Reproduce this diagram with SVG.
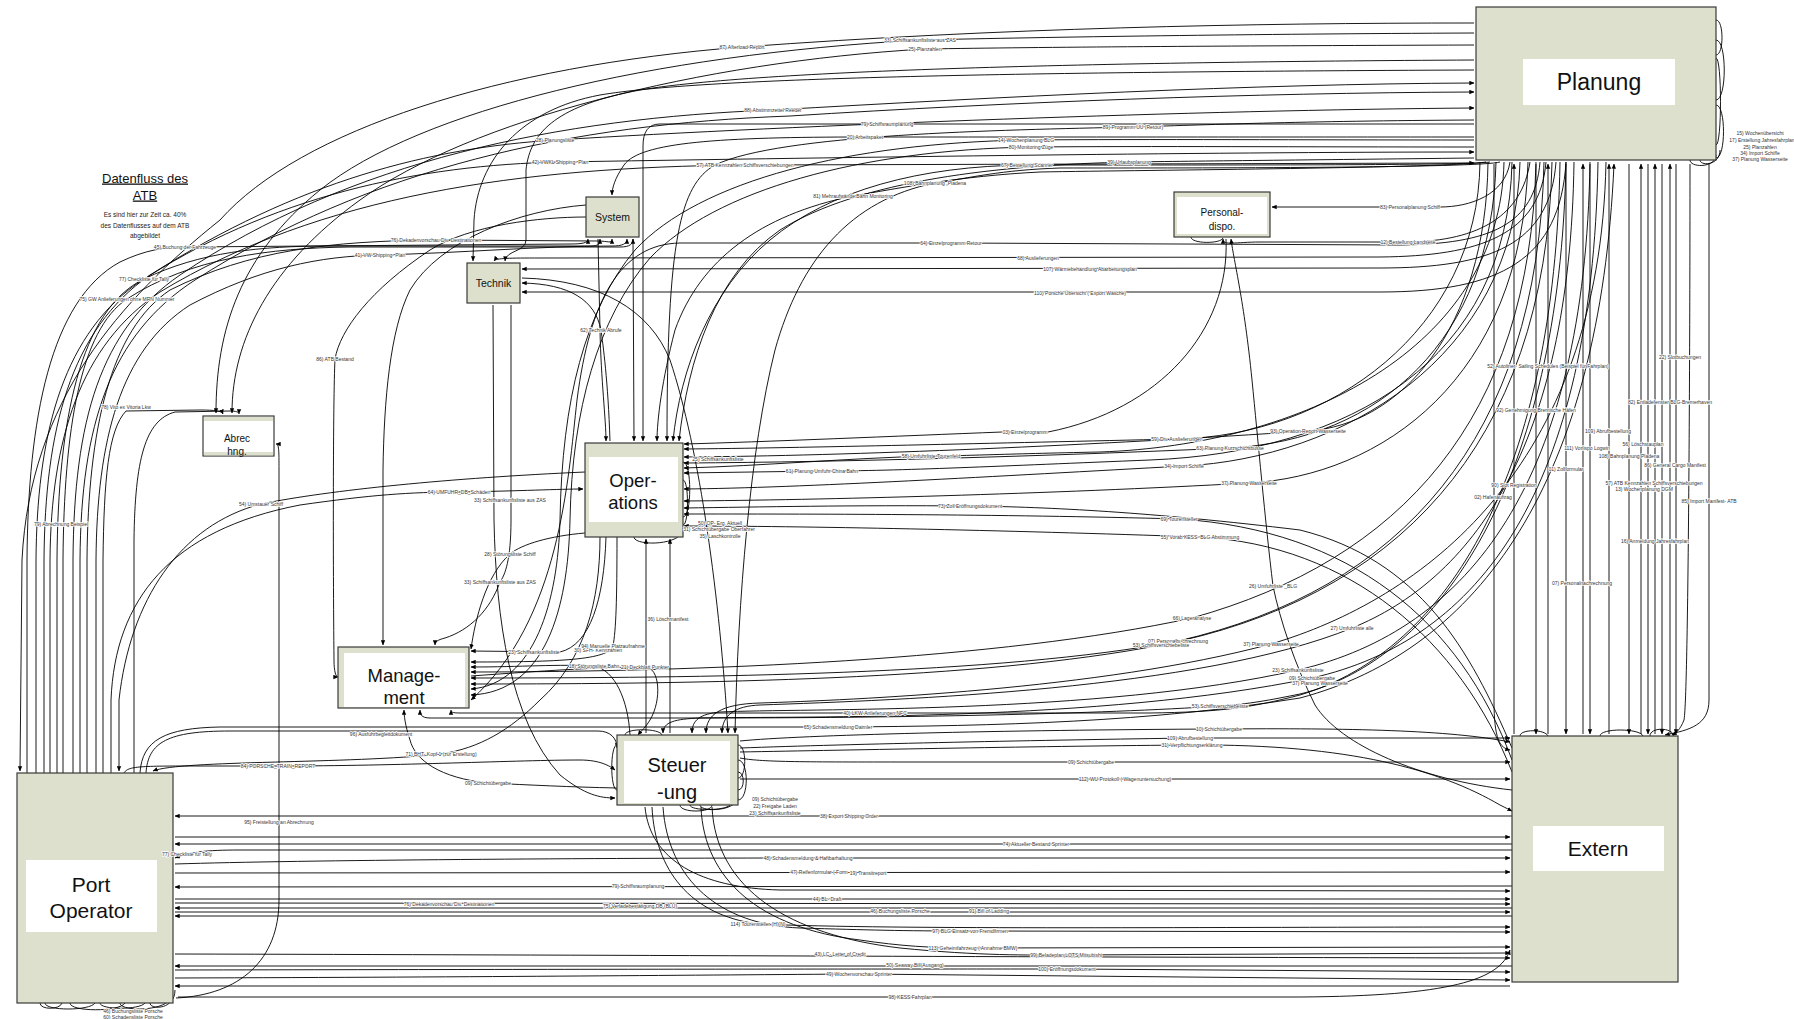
<svg xmlns="http://www.w3.org/2000/svg" width="1794" height="1019" viewBox="0 0 1794 1019">
<style>
.c path{fill:none;stroke:#000;stroke-width:0.9;marker-end:url(#a)}
.lp path{fill:none;stroke:#000;stroke-width:0.9}
.n{fill:#dde0cc;stroke:#3a3a3a;stroke-width:1.2}
.w{fill:#fff}
.t{font-family:"Liberation Sans",Arial,sans-serif;text-anchor:middle;fill:#111}
.l{font-family:"Liberation Sans",Arial,sans-serif;font-size:5px;text-anchor:middle;dominant-baseline:central;fill:#333;stroke:#fff;stroke-width:1.5;paint-order:stroke;stroke-linejoin:round}
.s{font-family:"Liberation Sans",Arial,sans-serif;font-size:6.5px;text-anchor:middle;fill:#222}
</style>
<defs>
<marker id="a" viewBox="0 0 8 8" refX="7.5" refY="4" markerWidth="5" markerHeight="5" orient="auto" markerUnits="userSpaceOnUse"><path d="M0,0.5 L8,4 L0,7.5 Z" fill="#000"/></marker>
</defs>
<rect width="1794" height="1019" fill="#fff"/>

<g id="title">
<text class="t" x="145" y="182.5" font-size="13" text-decoration="underline">Datenfluss des</text>
<text class="t" x="145" y="199.5" font-size="13" text-decoration="underline">ATB</text>
<text class="s" x="145" y="217">Es sind hier zur Zeit ca. 40%</text>
<text class="s" x="145" y="228">des Datenflusses auf dem ATB</text>
<text class="s" x="145" y="238">abgebildet</text>
</g>

<g id="connectors" class="c">
<!-- Planung left -->
<path d="M1474,23 C1250,23 1000,28 742,47 C500,66 300,130 220,220 C120,300 30,400 22,560 L20,771"/>
<path d="M1474,33 C1250,34 1050,37 920,40 C650,55 420,110 320,190 C240,255 216,330 216,413"/>
<path d="M1474,45 C1200,46 1050,47 925,49 C700,62 470,120 360,200 C270,265 232,340 232,413"/>
<path d="M73,773 L73,560 C74,420 100,330 180,275 C350,160 560,118 773,110 C1000,97 1250,84 1474,83"/>
<path d="M80,773 L80,560 C81,425 110,335 195,280 C370,168 570,124 790,116 C1010,102 1250,93 1474,92"/>
<path d="M1474,124 L660,124 C648,124 643,132 643,146 L643,441"/>
<path d="M1474,120 C1300,121 1200,125 1133,127 C1000,130 780,134 715,165 C680,185 667,240 667,441"/>
<path d="M1474,137 C1250,137 1000,137 865,137 C720,137 640,142 624,165 C615,178 612,188 612,195"/>
<path d="M1474,140 C1300,140 1150,139 1026,140 C850,143 700,180 635,250 C585,310 562,400 560,520 C558,600 535,684 471,689"/>
<path d="M1474,147 C1300,147 1150,146 1031,147 C860,150 715,190 650,258 C598,318 572,410 570,520 C568,610 545,692 471,695"/>
<path d="M50,773 L50,560 C51,440 80,345 160,292 C320,195 520,167 745,165 L1474,163"/>
<path d="M36,773 L36,560 C37,440 60,340 135,285 C270,195 420,165 560,162 C800,158 1200,152 1474,152"/>
<path d="M44,773 L44,560 C45,430 70,330 150,275 C300,180 430,148 555,140 C800,125 1200,110 1474,108"/>
<path d="M1474,60 C1100,62 760,70 640,90 C560,105 530,130 526,170 L526,240 C526,252 506,250 505,261"/>
<path d="M1474,70 C1000,72 700,78 600,95 C520,110 478,160 474,220 L473,261"/>
<path d="M1490,162 C1470,165 1300,165 1100,165 L1027,165 C920,166 830,190 770,240 C710,290 680,370 673,441"/>
<path d="M1474,158 C1300,160 1200,161 1129,162 C1000,165 860,180 780,230 C715,275 688,360 679,441"/>
<path d="M1500,162 C1480,168 1200,168 1060,168 C1000,170 970,178 935,183 C850,200 800,260 775,350 C750,450 738,600 735,733"/>
<path d="M1486,162 C1450,168 1150,170 1040,172 C960,176 900,188 853,196 C760,215 700,260 675,330 C662,380 657,420 657,441"/>
<!-- System bundle -->
<path d="M27,773 L27,560 C28,420 50,300 120,262 C145,250 165,247 185,247 L570,244 C582,244 588,243 588,239"/>
<path d="M87,773 L87,560 C88,430 110,330 170,290 C250,250 330,241 436,240 L598,241 C608,241 612,244 612,239"/>
<path d="M96,773 L96,560 C97,440 120,350 190,305 C260,268 320,256 380,255 C460,253 540,246 612,246 C622,246 627,244 627,239"/>
<path d="M57,773 L57,560 C58,420 80,310 144,279 C200,252 260,246 330,246 L590,246 C600,246 600,243 600,239"/>
<path d="M63,773 L63,560 C64,430 80,330 127,299 C190,258 270,248 350,247 L620,247 C630,247 633,244 633,239"/>
<!-- Abrechnung -->
<path d="M103,773 L103,560 C104,480 108,430 126,411 L200,410 C215,410 222,411 223,414"/>
<path d="M134,773 L134,540 C135,460 145,420 175,412 L230,411 C236,411 239,412 239,414"/>
<path d="M585,472 C450,478 330,490 261,504 C180,525 130,600 119,700 L119,771"/>
<path d="M111,773 L111,700 C115,600 170,530 300,505 C370,495 410,492 459,492 C520,491 560,489 583,489"/>
<path d="M176,998 C240,995 279,960 279,900 L279,470 C279,450 279,444 276,444"/>
<path d="M586,217 C540,217 470,225 430,250 C370,290 340,330 335,359 C333,400 333,560 334,660 C334,672 336,677 338,677"/>
<path d="M586,205 C520,210 440,240 410,290 C390,330 384,400 383,470 L383,645"/>
<!-- Personal-dispo -->
<path d="M1510,162 C1505,195 1470,207 1440,207 L1272,207"/>
<path d="M1530,162 C1522,215 1480,241 1408,242 L1260,242 C1235,242 1223,246 1223,239"/>
<path d="M1540,162 C1535,225 1490,244 1400,245 L951,243 L680,243 C620,244 590,300 577,400 C568,480 560,620 471,700"/>
<path d="M1226,239 C1230,330 1160,410 1048,432 L1002,432 C900,436 760,442 684,444"/>
<path d="M1512,790 C1420,780 1340,745 1315,705 C1295,665 1280,620 1273,586 C1265,520 1258,440 1252,380 C1244,300 1234,262 1231,239"/>
<!-- Technik -->
<path d="M1546,162 C1540,235 1480,256 1380,257 L540,258 C510,258 496,258 494,261"/>
<path d="M1556,162 C1550,245 1490,268 1380,268 L522,269"/>
<path d="M610,441 C608,380 603,345 601,330 C595,300 570,284 522,283"/>
<path d="M1566,162 C1560,260 1500,292 1380,292 L522,292"/>
<!-- Planung bottom to Operations -->
<path d="M1480,162 C1478,330 1330,436 1177,439 C1000,443 800,448 684,449"/>
<path d="M1488,162 C1486,330 1400,425 1308,431 C1100,445 850,456 684,457"/>
<path d="M1496,162 C1492,340 1380,440 1230,448 C1050,456 850,462 684,463"/>
<path d="M1504,162 C1500,350 1300,445 1100,452 C1000,454 960,456 931,456 C850,458 760,466 684,468"/>
<path d="M1512,162 C1508,360 1350,452 1150,460 C1000,466 900,471 822,471 L684,473"/>
<path d="M1520,162 C1515,360 1340,458 1184,466 C1000,476 800,488 684,489"/>
<path d="M1528,162 C1522,380 1380,476 1249,483 C1050,494 820,500 684,501"/>
<path d="M1512,748 C1470,650 1420,560 1300,530 C1150,512 1050,507 970,506 C850,505 760,507 684,508"/>
<path d="M1512,760 C1460,620 1350,530 1179,519 C1000,514 800,514 684,514"/>
<path d="M1512,772 C1460,640 1350,545 1200,537 C1000,530 800,526 684,526"/>
<!-- Planung bottom to Management / Steuerung -->
<path d="M1536,162 C1530,420 1400,560 1192,618 C1000,660 700,672 471,672"/>
<path d="M1544,162 C1538,440 1400,590 1178,641 C1000,675 700,678 471,678"/>
<path d="M1552,162 C1546,450 1390,600 1161,645 C980,680 700,684 471,684"/>
<path d="M1560,162 C1555,470 1450,650 1300,695 C1250,708 1220,712 1150,713 L875,713 L460,713 C452,713 451,712 451,710"/>
<path d="M1566,162 C1560,480 1440,660 1300,694 C1270,700 1250,704 1220,706 C1100,714 900,718 700,718 L430,718 C421,718 420,714 420,710"/>
<path d="M1574,162 C1570,450 1470,580 1352,628 C1200,690 900,700 760,705 C735,706 722,715 722,733"/>
<path d="M1590,162 C1585,480 1470,630 1298,670 C1100,715 800,708 720,712 C700,714 692,720 692,733"/>
<path d="M1598,162 C1592,490 1480,640 1312,678 C1100,722 800,716 700,718 C675,719 663,722 663,733"/>
<path d="M1606,162 C1600,470 1420,600 1271,644 C1100,690 850,700 760,703 C720,704 706,715 706,733"/>
<path d="M140,773 C142,740 165,728 220,727 L838,727 C1000,726 1150,722 1300,698 C1480,650 1600,480 1614,164"/>
<!-- Planung bottom to Extern top -->
<path d="M1494,164 L1494,700 C1494,740 1500,748 1510,750"/>
<path d="M1514,734 L1514,164"/>
<path d="M1536,164 L1536,734"/>
<path d="M1548,734 L1548,164"/>
<path d="M1566,164 L1566,734"/>
<path d="M1583,734 L1583,164"/>
<path d="M1590,164 L1590,734"/>
<path d="M1609,734 L1609,164"/>
<path d="M1629,164 L1629,734"/>
<path d="M1641,734 L1641,164"/>
<path d="M1648,164 L1648,734"/>
<path d="M1655,734 L1655,164"/>
<path d="M1662,164 L1662,734"/>
<path d="M1670,734 L1670,164"/>
<path d="M1676,164 L1676,734"/>
<path d="M1690,164 C1690,400 1688,700 1684,720 C1680,730 1676,733 1672,735"/>
<path d="M1709,164 L1709,700 C1709,725 1690,730 1665,735"/>
<!-- Steuerung / Extern / Port Operator -->
<path d="M740,741 C800,735 1000,730 1219,729 C1350,728 1450,730 1510,742"/>
<path d="M740,748 C850,744 1050,740 1190,738 L1510,738"/>
<path d="M740,752 C850,750 1050,746 1192,745 C1350,744 1440,770 1500,805 C1506,808 1510,810 1512,811"/>
<path d="M740,758 C760,762 800,762 900,762 L1510,762"/>
<path d="M740,779 L1510,779"/>
<path d="M1512,816 L175,816"/>
<path d="M175,837 L1510,837"/>
<path d="M1512,844 L175,844"/>
<path d="M1512,850 L240,850 C205,850 190,852 175,858"/>
<path d="M175,864 C300,860 600,858 808,858 L1510,858"/>
<path d="M175,873 L1510,872"/>
<path d="M1512,886 L175,887"/>
<path d="M645,807 C650,860 700,888 780,890 L1510,891"/>
<path d="M175,899 L1510,899"/>
<path d="M175,903 L1510,904"/>
<path d="M1512,908 L175,908"/>
<path d="M175,912 L1510,912"/>
<path d="M1512,916 L175,916"/>
<path d="M652,807 C655,870 690,915 758,924 C900,930 1200,927 1510,927"/>
<path d="M663,807 C668,880 720,925 800,928 C870,930 900,931 970,931 L1510,932"/>
<path d="M701,807 C704,880 760,928 860,940 C900,946 930,948 973,948 L1510,947"/>
<path d="M712,807 C716,890 790,935 900,948 C980,956 1030,955 1066,955 L1510,953"/>
<path d="M175,954 C600,955 1000,957 1510,958"/>
<path d="M1512,966 L175,966"/>
<path d="M175,970 C700,969 900,969 1067,969 L1510,972"/>
<path d="M175,978 C500,977 700,975 859,974 L1510,980"/>
<path d="M1510,986 L175,986"/>
<path d="M178,997 L1300,997 C1450,996 1500,980 1510,950"/>
<path d="M124,773 C128,766 140,766 200,766 L278,766 C400,766 520,760 580,760 C600,760 610,766 615,770"/>
<path d="M600,537 C600,600 585,660 540,700 C510,730 480,748 441,754 C350,764 180,760 153,771"/>
<path d="M617,788 C570,787 530,785 488,783 C440,778 415,760 410,740 C405,725 404,715 404,710"/>
<path d="M146,773 C148,742 168,731 230,731 L598,731 C610,731 617,738 617,748"/>
<!-- Technik / Operations / Management / Steuerung -->
<path d="M493,305 L494,520 C496,620 510,720 560,775 C585,795 600,798 615,798"/>
<path d="M511,305 L511,520 C511,560 505,575 500,582 C490,610 470,630 445,638 C437,640 435,642 435,645"/>
<path d="M585,533 C550,536 522,544 510,554 C486,575 475,620 471,649"/>
<path d="M606,537 C604,600 590,645 560,652 L471,651"/>
<path d="M617,537 C617,600 616,630 613,646 C608,660 560,662 471,662"/>
<path d="M630,735 C628,700 615,670 594,666 C560,664 520,667 471,667"/>
<path d="M471,676 C540,671 600,667 645,667 C660,667 662,700 650,720 C646,727 641,731 638,735"/>
<path d="M646,733 L646,539"/>
<path d="M670,733 L670,539"/>
<path d="M522,278 C600,280 650,310 670,360 C700,450 720,600 728,733"/>
<path d="M598,239 L600,330 C601,380 606,420 606,441"/>
<path d="M633,239 L634,441"/>
</g>

<g id="loops" class="lp">
<path d="M1716,20 C1724,20 1724,55 1716,55"/>
<path d="M1716,40 C1727,40 1727,100 1716,100"/>
<path d="M1716,58 C1722,58 1722,145 1716,145"/>
<path d="M1716,105 C1726,105 1726,158 1716,158"/>
<path d="M1690,160 C1690,168 1716,168 1716,155"/>
<path d="M1700,160 C1700,166 1720,166 1720,150"/>
<path d="M40,1003 C40,1010 60,1010 62,1003"/>
<path d="M45,1003 C45,1011 90,1011 95,1003"/>
<path d="M70,1003 C70,1012 120,1012 125,1003"/>
<path d="M100,1003 C100,1010 140,1010 145,1003"/>
<path d="M120,1003 C120,1012 170,1012 172,995"/>
<path d="M150,1003 C150,1010 175,1010 175,990"/>
<path d="M738,745 C747,745 747,778 738,778"/>
<path d="M738,760 C749,760 749,800 738,800"/>
<path d="M738,772 C745,772 745,790 738,790"/>
<path d="M680,805 C680,813 712,813 712,805"/>
<path d="M690,805 C690,811 725,811 730,805"/>
<path d="M700,805 C700,812 735,812 738,798"/>
<path d="M617,745 C610,745 610,790 617,790"/>
<path d="M625,735 C625,728 660,728 662,735"/>
<path d="M683,462 C692,462 692,517 683,517"/>
<path d="M683,480 C689,480 689,525 683,525"/>
<path d="M634,537 C634,546 680,546 683,530"/>
<path d="M1520,736 C1520,729 1545,729 1548,736"/>
<path d="M1600,736 C1600,728 1640,728 1643,736"/>
<path d="M1650,736 C1650,727 1672,727 1674,736"/>
<path d="M1191,237 C1191,244 1221,244 1223,238"/>
</g>

<g id="planung"><rect class="n" x="1476" y="7" width="240" height="153"/><rect class="w" x="1523" y="59" width="152" height="46"/><text class="t" x="1599" y="90" font-size="23">Planung</text></g>
<g id="extern"><rect class="n" x="1512" y="736" width="166" height="246"/><rect class="w" x="1533" y="826" width="131" height="45"/><text class="t" x="1598" y="856" font-size="21">Extern</text></g>
<g id="port-operator"><rect class="n" x="17" y="773" width="156" height="230"/><rect class="w" x="26" y="860" width="131" height="72"/><text class="t" x="91" y="891.5" font-size="21">Port</text><text class="t" x="91" y="917.5" font-size="21">Operator</text></g>
<g id="steuerung"><rect class="n" x="617" y="735" width="121" height="70"/><rect class="w" x="624" y="741" width="106" height="62"/><text class="t" x="677" y="772" font-size="20">Steuer</text><text class="t" x="677" y="799" font-size="20">-ung</text></g>
<g id="management"><rect class="n" x="338" y="647" width="131" height="61"/><rect class="w" x="344" y="653" width="121" height="54"/><text class="t" x="404" y="681.5" font-size="18.5">Manage-</text><text class="t" x="404" y="703.5" font-size="18.5">ment</text></g>
<g id="operations"><rect class="n" x="585" y="443" width="98" height="94"/><rect class="w" x="589" y="457" width="89" height="65"/><text class="t" x="633" y="486.5" font-size="18.5">Oper-</text><text class="t" x="633" y="508.5" font-size="18.5">ations</text></g>
<g id="abrechnung"><rect class="w" x="203" y="416" width="71" height="40" stroke="#3a3a3a" stroke-width="1.2"/><rect x="204" y="417" width="69" height="4" fill="#dde0cc"/><rect x="204" y="452" width="69" height="3.4" fill="#dde0cc"/><text class="t" x="237" y="441.5" font-size="10">Abrec</text><text class="t" x="237" y="455" font-size="10">hng.</text></g>
<g id="system"><rect class="n" x="586" y="197" width="53" height="40"/><text class="t" x="612.5" y="220.5" font-size="10.5">System</text></g>
<g id="technik"><rect class="n" x="467" y="263" width="53" height="40"/><text class="t" x="493.5" y="286.5" font-size="10.5">Technik</text></g>
<g id="personal-dispo"><rect class="n" x="1174" y="192" width="96" height="45"/><rect class="w" x="1177" y="197" width="90" height="37"/><text class="t" x="1222" y="215.5" font-size="10">Personal-</text><text class="t" x="1222" y="229.5" font-size="10">dispo.</text></g>

<g id="labels">
<text class="l" x="742" y="47">87) Afterload-Report</text>
<text class="l" x="920" y="40">33) Schiffsankunftsliste aus ZAS</text>
<text class="l" x="925" y="49">25) Planzahlen</text>
<text class="l" x="773" y="110">88) Abstimmzettel Reeder</text>
<text class="l" x="887" y="124">79) Schiffsraumplanung</text>
<text class="l" x="1133" y="127">89) Programm ÜÜ (Retour)</text>
<text class="l" x="865" y="137">20) Arbeitspaket</text>
<text class="l" x="1026" y="140">14) Wochenplanung BLG</text>
<text class="l" x="1031" y="147">80) Monitoring Züge</text>
<text class="l" x="745" y="165">57)  ATB Kennzahlen Schiffsverschiebungen</text>
<text class="l" x="1027" y="165">67) Bestellung Scanner</text>
<text class="l" x="1129" y="162">39) Urlaubsplanung</text>
<text class="l" x="935" y="183">108) Bahnplanung „Pladena</text>
<text class="l" x="853" y="196">81) Mehraufwände Bahn Monitoring</text>
<text class="l" x="555" y="140">28) Planungsliste</text>
<text class="l" x="560" y="162">42) VWKL Shipping- Plan</text>
<text class="l" x="436" y="240">76) Dekadenvorschau Div. Destinationen</text>
<text class="l" x="185" y="247">45) Buchung der Fahrzeuge</text>
<text class="l" x="380" y="255">41) VW Shipping- Plan</text>
<text class="l" x="144" y="279">77) Checkliste für Tally</text>
<text class="l" x="127" y="299">75) GW Anlieferungen ohne MRN Nummer</text>
<text class="l" x="601" y="330">62) Technik Abrufe</text>
<text class="l" x="1410" y="207">83) Personalplanung Schiff</text>
<text class="l" x="951" y="243">64) Einzelprogramm Retour</text>
<text class="l" x="1408" y="242">12) Bestellung Landseite</text>
<text class="l" x="1038" y="258">68) Auslieferungen</text>
<text class="l" x="1090" y="269">107) Wärmebehandlung Abarbeitungsplan</text>
<text class="l" x="1080" y="293" font-size="4.2">110) Porsche Übersicht ( Export Wäsche)</text>
<text class="l" x="335" y="359">86) ATB Bestand</text>
<text class="l" x="126" y="407">78) Vito ex Vitoria Lkw</text>
<text class="l" x="261" y="504">54) Umstauer Schiff</text>
<text class="l" x="459" y="492">64) UMFUHR_DB_Schäden</text>
<text class="l" x="510" y="500">33) Schiffsankunftsliste aus ZAS</text>
<text class="l" x="61" y="524">79) Abrechnung Beispiel</text>
<text class="l" x="510" y="554">28) Störungsliste Schiff</text>
<text class="l" x="500" y="582">33) Schiffsankunftsliste aus ZAS</text>
<text class="l" x="534" y="652">23) Schiffsankunftsliste</text>
<text class="l" x="598" y="650">30) SFH- Kennzahlen</text>
<text class="l" x="613" y="646">94) Manuelle Platzaufnahme</text>
<text class="l" x="594" y="666">18) Störungsliste Bahn</text>
<text class="l" x="645" y="667">21) Deckblatt Punkter</text>
<text class="l" x="668" y="619">36) Löschmanifest</text>
<text class="l" x="381" y="734">96) Ausfuhrbegleitdokument</text>
<text class="l" x="441" y="754">71) BHT- Kopf 1 (zur Erstellung)</text>
<text class="l" x="488" y="783">09) Schichtübergabe</text>
<text class="l" x="278" y="766">84) PORSCHE_TRAIN_REPORT</text>
<text class="l" x="279" y="822">95) Freistellung an Abrechnung</text>
<text class="l" x="187" y="854">77) Checkliste für Tally</text>
<text class="l" x="449" y="904">76) Dekadenvorschau Div. Destinationen</text>
<text class="l" x="133" y="1011">46) Buchungsliste Porsche</text>
<text class="l" x="133" y="1017">60) Schadensliste Porsche</text>
<text class="l" x="1025" y="432">03) Einzelprogramm</text>
<text class="l" x="1177" y="439">59) Div. Auslieferungen</text>
<text class="l" x="1308" y="431">93) Operation Report  Wasserseite</text>
<text class="l" x="1230" y="448">63) Planung Kurzschichtbusse</text>
<text class="l" x="931" y="456">58) Umfuhrliste Tourenfeld</text>
<text class="l" x="718" y="459">25) Schiffsankunftsliste</text>
<text class="l" x="822" y="471">61)  Planung Umfuhr China Bahn</text>
<text class="l" x="1184" y="466">34) Import Schiffe</text>
<text class="l" x="1249" y="483">37) Planung Wasserseite</text>
<text class="l" x="970" y="506">73) Zoll Eröffnungsdokument</text>
<text class="l" x="1179" y="519">69) Tourensteller</text>
<text class="l" x="1200" y="537">55) Vorab KESS- BLG Abstimmung</text>
<text class="l" x="720" y="523">50) OP- Erg. Aktuell</text>
<text class="l" x="719" y="529">31) Schichtübergabe Oberfahrer</text>
<text class="l" x="720" y="536">35) Laschkontrolle</text>
<text class="l" x="1273" y="586">26) Umfuhrliste _BLG</text>
<text class="l" x="1192" y="618">66) Lageranalyse</text>
<text class="l" x="1178" y="641">07) Personalbuchrechnung</text>
<text class="l" x="1161" y="645">53) Schiffsverschiebeliste</text>
<text class="l" x="1271" y="644">37) Planung Wasserseite</text>
<text class="l" x="1352" y="628">27) Umfuhrliste alle</text>
<text class="l" x="1298" y="670">23) Schiffsankunftsliste</text>
<text class="l" x="1312" y="678">09) Schichtübergabe</text>
<text class="l" x="1320" y="683">37) Planung Wasserseite</text>
<text class="l" x="1220" y="706">53) Schiffsverschiebeliste</text>
<text class="l" x="875" y="713">40) LKW-Anlieferungen NFC</text>
<text class="l" x="838" y="727">65) Schadensmeldung Daimler</text>
<text class="l" x="1219" y="729">10) Schichtübergabe</text>
<text class="l" x="1190" y="738">109) Abrufbestellung</text>
<text class="l" x="1192" y="745">31) Verpflichtungserklärung</text>
<text class="l" x="1091" y="762">09) Schichtübergabe</text>
<text class="l" x="1125" y="779">112) WU Protokoll ( Wagenuntersuchung)</text>
<text class="l" x="775" y="799">09) Schichtübergabe</text>
<text class="l" x="775" y="806">22) Freigabe Laden</text>
<text class="l" x="775" y="813">23) Schiffsankunftsliste</text>
<text class="l" x="849" y="816">38) Export Shipping Order</text>
<text class="l" x="1036" y="844">74) Aktueller Bestand Sprinter</text>
<text class="l" x="808" y="858">48) Schadensmeldung &amp; Haftbarhaltung</text>
<text class="l" x="819" y="872">47) Reifenformular ( Form</text>
<text class="l" x="868" y="873">19) Transitreport</text>
<text class="l" x="638" y="886">79) Schiffsraumplanung</text>
<text class="l" x="827" y="899">44) BL- Draft</text>
<text class="l" x="640" y="906">75) Verladebestätigung DB (BLU)</text>
<text class="l" x="900" y="911">46) Buchungsliste Porsche</text>
<text class="l" x="989" y="911">91) Bill of Ladding</text>
<text class="l" x="758" y="924">114) Tourensteller (HYN)</text>
<text class="l" x="970" y="931">97) BLG Einsatz von Fremdfirmen</text>
<text class="l" x="973" y="948">113) Geheimfahrzeug ( Annahme BMW)</text>
<text class="l" x="1066" y="955">99) Beladeplan LOTS Mitsubishi</text>
<text class="l" x="840" y="954">43) LC- Letter of Credit</text>
<text class="l" x="915" y="965">50) Seaway Bill(Ausgang)</text>
<text class="l" x="1067" y="969">100) Eröffnungsdokument</text>
<text class="l" x="859" y="974">49) Wochenvorschau Sprinter</text>
<text class="l" x="910" y="997">98) KESS Fahrplan</text>
<text class="l" x="1548" y="366">52) Autoliner- Sailing Schedules (Beispiel für Fahrplan)</text>
<text class="l" x="1680" y="357">22) Slotbuchungen</text>
<text class="l" x="1670" y="402">82) Entladefenster BLG-Bremerhaven</text>
<text class="l" x="1536" y="410">92) Genehmigung Bremische Häfen</text>
<text class="l" x="1608" y="431">109) Abrufbestellung</text>
<text class="l" x="1643" y="444">56) Löschstauplan</text>
<text class="l" x="1587" y="448">111) Vorlispo Logwin</text>
<text class="l" x="1629" y="456">108) Bahnplanung Pladena</text>
<text class="l" x="1675" y="465" font-size="4">86) General Cargo Manifest</text>
<text class="l" x="1566" y="469">01) Zollformular</text>
<text class="l" x="1654" y="483">57) ATB Kennzahlen Schiffsverschiebungen</text>
<text class="l" x="1644" y="489">13) Wochenplanung DGM</text>
<text class="l" x="1514" y="485">90) Slot Registration</text>
<text class="l" x="1493" y="497">02) Hafenauftrag</text>
<text class="l" x="1709" y="501">85) Import Manifest- ATB</text>
<text class="l" x="1655" y="541">16) Anmeldung Jahresfahrplan</text>
<text class="l" x="1582" y="583">07) Personalnachrechnung</text>
<text class="l" x="1760" y="133">15) Wochenübersicht</text>
<text class="l" x="1762" y="140">17) Erstellung Jahresfahrplan</text>
<text class="l" x="1760" y="147">25) Planzahlen</text>
<text class="l" x="1760" y="153">34) Import Schiffe</text>
<text class="l" x="1760" y="159">37) Planung Wasserseite</text>
</g>
</svg>
